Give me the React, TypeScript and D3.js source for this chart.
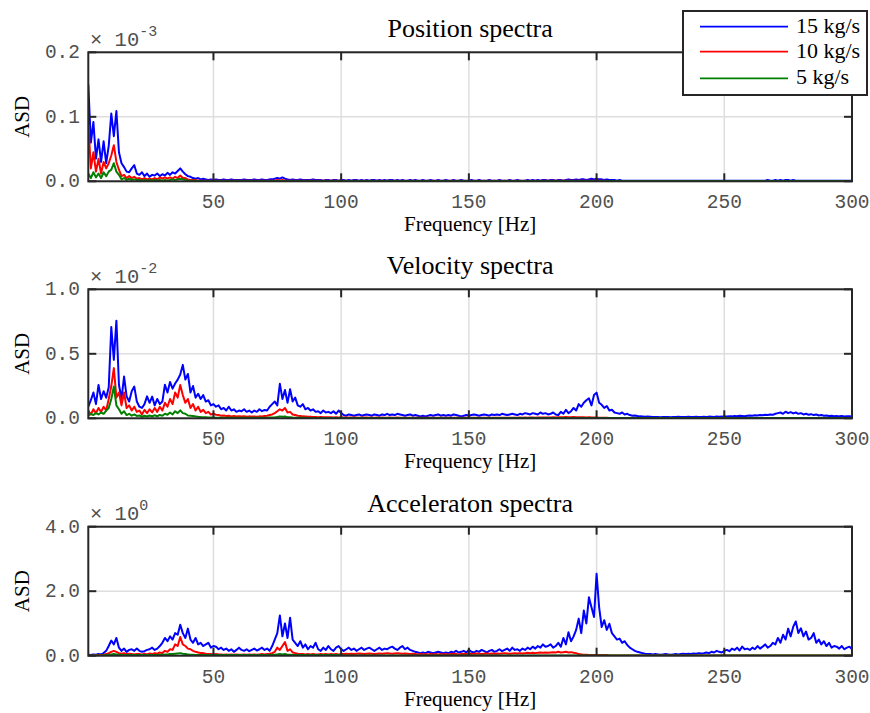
import React from 'react';
import * as d3 from 'd3';

// Spectra are sampled every 1 Hz, starting at 1 Hz (index i -> f = i + 1)
const freqStartHz = 1;
const freqStepHz = 1;
const xDomain = [1, 300];
const xTickValues = [50, 100, 150, 200, 250, 300];
const seriesLabels = ['15 kg/s', '10 kg/s', '5 kg/s'];
const seriesColors = ['#0000ff', '#ff0000', '#008000'];
const panelTitles = ['Position spectra', 'Velocity spectra', 'Acceleraton spectra'];
const yTickLabels = [['0.0', '0.1', '0.2'], ['0.0', '0.5', '1.0'], ['0.0', '2.0', '4.0']];
// raw units: position 1e-6, velocity 1e-5, acceleration 1e-2
const yTickValues = [[0, 100, 200], [0, 500, 1000], [0, 200, 400]];
const yExponents = ['-3', '-2', '0'];

const pos15 = [
  150,60,92,35,65,30,62,28,55,105,70,109,45,28,22,15,14,20,25,12,
  10,14,8,12,7,10,9,12,8,11,9,13,10,14,12,16,20,15,11,8,
  7,5,4,5,3,4,3,2,3,2,3,2,2,3,2,2,3,2,2,2,
  2,3,2,2,2,3,2,2,3,2,2,3,3,4,5,4,6,4,3,2,
  3,2,2,3,2,2,2,2,3,2,2,2,1,2,2,1,2,2,1,2,
  2,1,2,1,2,2,1,2,1,2,1,2,2,1,2,1,2,1,2,2,
  1,2,1,2,1,1,2,1,2,1,1,2,1,1,2,1,1,2,1,1,
  2,1,1,2,1,1,2,1,1,1,2,1,1,2,1,1,1,2,1,1,
  1,2,1,1,1,2,1,1,2,1,1,1,2,1,2,1,2,1,2,2,
  1,2,2,1,2,2,1,2,3,2,2,3,2,3,3,2,3,4,3,4,
  3,3,2,3,2,2,2,1,2,1,1,1,1,1,1,1,1,1,1,1,
  1,1,1,1,1,1,1,1,1,1,1,1,1,1,1,1,1,1,1,1,
  1,1,1,1,1,1,1,1,1,1,1,1,1,1,1,1,1,1,1,1,
  1,1,1,1,1,1,2,1,1,2,1,2,1,2,2,1,2,1,1,1,
  1,1,1,1,1,1,1,1,1,1,1,1,1,1,1,1,1,1,1,1,
];
const pos10 = [
  90,20,45,15,35,12,30,20,28,40,56,30,18,8,10,5,8,5,7,4,
  5,3,5,3,4,3,5,3,6,4,6,4,6,4,7,5,9,5,5,3,
  2,2,2,1,1,1,1,1,1,1,1,1,1,1,1,1,1,1,1,1,
  1,1,1,1,1,1,1,1,1,1,1,1,1,1,2,1,2,1,1,1,
  1,1,1,1,1,1,1,1,1,1,1,1,1,1,1,1,1,1,1,1,
  0.5,1,0.5,1,0.5,1,0.5,1,0.5,1,0.5,1,0.5,1,0.5,1,0.5,1,0.5,1,
  0.5,1,0.5,1,0.5,1,0.5,1,0.5,1,0.5,1,0.5,1,0.5,1,0.5,1,0.5,1,
  0.5,1,0.5,1,0.5,1,0.5,1,0.5,1,0.5,1,0.5,1,0.5,1,0.5,1,0.5,1,
  0.5,1,0.5,1,0.5,1,0.5,1,0.5,1,0.5,1,0.5,1,0.5,1,0.5,1,0.5,1,
  1,1,1,1,1,1,1,1,1,1,1,1,1,1,1,1,1,1,1,1,
  1,1,1,0.5,0.5,0.5,0.5,0.5,0.5,0.5,0.5,0.5,0.5,0.5,0.5,0.5,0.5,0.5,0.5,0.5,
  0.5,0.5,0.5,0.5,0.5,0.5,0.5,0.5,0.5,0.5,0.5,0.5,0.5,0.5,0.5,0.5,0.5,0.5,0.5,0.5,
  0.5,0.5,0.5,0.5,0.5,0.5,0.5,0.5,0.5,0.5,0.5,0.5,0.5,0.5,0.5,0.5,0.5,0.5,0.5,0.5,
  0.5,0.5,0.5,0.5,0.5,0.5,0.5,0.5,0.5,0.5,0.5,0.5,0.5,0.5,0.5,0.5,0.5,0.5,0.5,0.5,
  0.5,0.5,0.5,0.5,0.5,0.5,0.5,0.5,0.5,0.5,0.5,0.5,0.5,0.5,0.5,0.5,0.5,0.5,0.5,0.5,
];
const pos5 = [
  12,5,14,6,12,5,14,8,15,18,28,15,10,3,5,2,4,2,3,2,
  2,1,2,1,2,1,2,1,2,1,2,1,2,3,2,3,4,3,2,1,
  1,1,1,0.5,0.5,0.5,0.5,0.5,0.5,0.5,0.5,0.5,0.5,0.5,0.5,0.5,0.5,0.5,0.5,0.5,
  0.5,0.5,0.5,0.5,0.5,0.5,0.5,0.5,0.5,0.5,0.5,0.5,0.5,0.5,0.5,0.5,0.5,0.5,0.5,0.5,
  0.5,0.5,0.5,0.5,0.5,0.5,0.5,0.5,0.5,0.5,0.5,0.5,0.5,0.5,0.5,0.5,0.5,0.5,0.5,0.5,
  0.3,0.3,0.3,0.3,0.3,0.3,0.3,0.3,0.3,0.3,0.3,0.3,0.3,0.3,0.3,0.3,0.3,0.3,0.3,0.3,
  0.3,0.3,0.3,0.3,0.3,0.3,0.3,0.3,0.3,0.3,0.3,0.3,0.3,0.3,0.3,0.3,0.3,0.3,0.3,0.3,
  0.3,0.3,0.3,0.3,0.3,0.3,0.3,0.3,0.3,0.3,0.3,0.3,0.3,0.3,0.3,0.3,0.3,0.3,0.3,0.3,
  0.3,0.3,0.3,0.3,0.3,0.3,0.3,0.3,0.3,0.3,0.3,0.3,0.3,0.3,0.3,0.3,0.3,0.3,0.3,0.3,
  0.3,0.3,0.3,0.3,0.3,0.3,0.3,0.3,0.3,0.3,0.3,0.3,0.3,0.3,0.3,0.3,0.3,0.3,0.3,0.3,
  0.3,0.3,0.3,0.3,0.3,0.3,0.3,0.3,0.3,0.3,0.3,0.3,0.3,0.3,0.3,0.3,0.3,0.3,0.3,0.3,
  0.3,0.3,0.3,0.3,0.3,0.3,0.3,0.3,0.3,0.3,0.3,0.3,0.3,0.3,0.3,0.3,0.3,0.3,0.3,0.3,
  0.3,0.3,0.3,0.3,0.3,0.3,0.3,0.3,0.3,0.3,0.3,0.3,0.3,0.3,0.3,0.3,0.3,0.3,0.3,0.3,
  0.3,0.3,0.3,0.3,0.3,0.3,0.3,0.3,0.3,0.3,0.3,0.3,0.3,0.3,0.3,0.3,0.3,0.3,0.3,0.3,
  0.3,0.3,0.3,0.3,0.3,0.3,0.3,0.3,0.3,0.3,0.3,0.3,0.3,0.3,0.3,0.3,0.3,0.3,0.3,0.3,
];

const vel15 = [
  90,140,200,110,259,150,210,160,240,707,453,757,260,150,324,170,130,210,246,130,
  90,80,110,170,120,168,100,150,110,130,260,200,282,230,270,300,340,414,300,344,
  200,250,160,190,150,180,130,140,100,110,90,100,70,80,60,90,60,70,50,60,
  55,70,50,60,45,60,50,70,55,65,60,90,110,130,100,267,150,220,120,225,
  130,160,100,90,110,70,80,60,70,50,55,40,60,45,50,40,55,35,60,40,
  25,20,30,25,20,25,30,20,25,30,25,20,30,25,20,30,25,35,25,30,
  25,35,30,25,20,25,30,20,25,20,15,20,15,20,25,20,25,30,20,25,
  20,25,20,30,25,20,15,20,25,20,25,30,25,20,25,30,25,20,30,25,
  30,25,35,30,25,30,35,30,25,35,30,40,35,30,40,35,30,45,35,40,
  30,35,45,30,25,50,35,65,40,55,80,60,110,90,120,140,155,100,180,199,
  120,105,80,95,60,66,45,40,35,45,30,35,25,20,22,18,15,14,12,13,
  12,10,11,10,9,10,11,10,9,10,11,12,10,11,10,12,11,10,12,11,
  10,12,11,13,12,10,14,12,13,15,14,16,15,18,16,20,18,16,20,22,
  20,24,22,25,23,28,25,30,27,35,40,45,35,51,40,48,38,45,35,40,
  30,35,28,32,25,30,22,25,20,22,18,20,16,18,15,17,14,16,15,14,
];
const vel10 = [
  60,30,70,40,80,50,90,60,150,250,389,160,200,100,200,80,100,60,90,50,
  60,30,65,40,70,45,80,50,90,60,120,90,150,110,200,160,259,180,120,150,
  80,110,60,90,50,65,40,50,30,35,28,25,20,22,18,20,15,18,14,16,
  14,16,12,15,13,14,12,15,14,18,20,25,30,40,55,70,60,80,45,50,
  30,25,20,18,15,14,12,12,10,11,9,10,8,9,8,9,7,8,7,8,
  7,6,7,6,7,6,5,6,7,6,5,6,5,6,5,6,5,5,6,5,
  5,6,5,5,4,5,4,5,4,5,4,4,5,4,4,5,4,4,5,4,
  4,5,4,4,5,4,4,5,4,4,5,4,5,4,5,4,5,4,5,5,
  4,5,5,4,5,5,4,5,5,6,5,6,5,6,6,5,6,7,6,7,
  6,7,8,7,8,9,8,10,9,8,10,9,8,9,8,7,8,6,7,6,
  5,5,4,4,3,3,3,3,2,2,2,2,2,2,2,2,2,2,2,2,
  2,2,2,2,2,2,2,2,2,2,2,2,2,2,2,2,2,2,2,2,
  2,2,2,2,2,2,2,2,2,2,2,2,2,2,2,2,2,2,2,2,
  2,2,2,2,2,2,2,2,2,3,3,3,3,3,3,3,3,3,3,3,
  2,2,2,2,2,2,2,2,2,2,2,2,2,2,2,2,2,2,2,2,
];
const vel5 = [
  20,35,25,40,30,45,35,60,80,150,246,100,70,35,55,25,35,20,30,18,
  22,12,20,14,22,14,24,16,26,20,35,28,45,30,55,40,62,40,35,22,
  20,18,15,12,10,9,8,7,6,6,5,5,5,4,4,4,4,4,4,4,
  4,4,4,4,4,4,4,4,4,5,5,6,7,8,10,15,12,14,9,8,
  6,5,5,4,4,4,3,3,3,3,3,3,3,3,3,3,3,3,3,3,
  2,2,2,2,2,2,2,2,2,2,2,2,2,2,2,2,2,2,2,2,
  2,2,2,2,2,2,2,2,2,2,2,2,2,2,2,2,2,2,2,2,
  2,2,2,2,2,2,2,2,2,2,2,2,2,2,2,2,2,2,2,2,
  2,2,2,2,2,2,2,2,2,2,2,2,2,2,2,2,2,2,2,2,
  2,2,2,2,2,2,2,2,2,2,2,2,2,2,2,2,2,2,2,2,
  2,2,2,2,2,2,2,2,2,2,2,2,2,2,2,2,2,2,2,2,
  2,2,2,2,2,2,2,2,2,2,2,2,2,2,2,2,2,2,2,2,
  2,2,2,2,2,2,2,2,2,2,2,2,2,2,2,2,2,2,2,2,
  2,2,2,2,2,2,2,2,2,2,2,2,2,2,2,2,2,2,2,2,
  2,2,2,2,2,2,2,2,2,2,2,2,2,2,2,2,2,2,2,2,
];

const acc15 = [
  3,2,4,3,5,4,8,15,30,47,35,55,25,15,22,12,18,20,15,22,
  15,12,14,18,20,25,18,22,30,40,55,45,60,50,70,65,96,70,55,84,
  50,40,55,35,40,30,35,40,25,30,28,20,25,18,22,15,20,12,18,25,
  18,15,20,14,18,22,16,20,25,18,22,15,30,50,70,125,60,100,55,118,
  50,40,30,45,25,35,20,30,25,40,20,15,25,18,30,20,15,25,30,20,
  15,20,25,18,22,15,20,25,18,22,25,20,15,20,25,18,22,20,25,28,
  22,18,25,30,20,25,18,15,12,10,8,10,8,12,10,8,10,12,10,8,
  10,8,12,10,15,10,12,15,10,18,12,10,15,12,18,14,10,15,18,12,
  15,20,14,18,22,15,25,18,20,15,22,18,25,20,28,22,30,25,35,28,
  30,35,25,30,40,28,55,35,73,45,60,80,115,70,140,100,181,150,120,254,
  150,89,110,80,99,70,60,50,53,40,45,33,25,20,15,12,10,8,6,5,
  5,4,5,4,3,4,5,4,3,4,5,4,5,6,5,6,5,7,6,8,
  7,8,10,8,12,10,15,12,10,15,18,14,22,18,25,16,28,20,22,18,
  25,20,30,22,28,35,25,30,40,35,55,40,65,50,84,60,90,106,70,85,
  60,75,50,55,70,40,50,35,45,30,40,25,30,28,22,30,20,25,28,20,
];
const acc10 = [
  1,1,1,2,2,2,3,5,8,12,15,12,8,6,8,5,6,5,4,5,
  5,3,6,4,7,5,8,6,10,8,15,12,20,18,35,30,58,35,30,22,
  20,15,12,10,8,8,6,5,5,4,5,4,4,3,4,3,4,3,4,3,
  3,4,3,4,3,4,3,4,5,4,5,6,8,12,25,18,30,42,15,20,
  10,8,6,5,5,4,5,4,5,4,4,5,4,5,4,5,4,5,4,5,
  5,6,5,6,5,6,7,6,5,6,7,6,5,6,7,6,7,8,7,6,
  7,8,7,6,7,6,5,6,5,4,5,4,5,4,5,4,5,4,5,4,
  5,4,5,6,5,4,5,6,5,6,5,6,7,6,5,6,7,6,7,6,
  7,6,7,8,7,6,7,8,7,8,7,8,9,8,9,8,9,10,9,10,
  9,10,11,10,12,10,11,12,10,11,9,8,5,4,3,3,2,2,2,2,
  2,2,2,2,1,1,1,1,1,1,1,1,1,1,1,1,1,1,1,1,
  1,1,1,1,1,1,1,1,1,1,1,1,1,1,1,1,1,1,1,1,
  1,1,1,1,1,1,1,1,1,1,1,1,1,1,1,1,1,1,1,1,
  1,1,1,1,1,1,1,1,1,1,1,1,1,1,1,1,1,1,1,1,
  1,1,1,1,1,1,1,1,1,1,1,1,1,1,1,1,1,1,1,1,
];
const acc5 = [
  0,0,1,1,1,1,1,2,3,4,5,4,3,2,2,2,2,2,2,2,
  2,2,2,2,2,2,2,2,3,3,4,4,5,5,6,7,8,6,5,4,
  3,3,2,2,2,2,2,2,2,2,2,2,2,2,2,2,2,2,2,2,
  2,2,2,2,2,2,2,2,2,2,2,2,3,3,4,5,4,5,3,3,
  2,2,2,2,2,2,2,2,2,2,2,2,2,2,2,2,2,2,2,2,
  1,1,1,1,1,1,1,1,1,1,1,1,1,1,1,1,1,1,1,1,
  1,1,1,1,1,1,1,1,1,1,1,1,1,1,1,1,1,1,1,1,
  1,1,1,1,1,1,1,1,1,1,1,1,1,1,1,1,1,1,1,1,
  1,1,1,1,1,1,1,1,1,1,1,1,1,1,1,1,1,1,1,1,
  1,1,1,1,1,1,1,1,1,1,1,1,1,1,1,1,1,1,1,1,
  1,1,1,1,1,1,1,1,1,1,1,1,1,1,1,1,1,1,1,1,
  1,1,1,1,1,1,1,1,1,1,1,1,1,1,1,1,1,1,1,1,
  1,1,1,1,1,1,1,1,1,1,1,1,1,1,1,1,1,1,1,1,
  1,1,1,1,1,1,1,1,1,1,1,1,1,1,1,1,1,1,1,1,
  1,1,1,1,1,1,1,1,1,1,1,1,1,1,1,1,1,1,1,1,
];

const panelSeries = [
  [pos15, pos10, pos5],
  [vel15, vel10, vel5],
  [acc15, acc10, acc5],
];

const SERIF = '"Liberation Serif", "Times New Roman", serif';
const MONO = '"Liberation Mono", "Courier New", monospace';
const AXC = '#262626';

export default function App() {
  const W = 870, H = 713;
  const left = 88.3, right = 852, plotH = 129;
  const tops = [52.3, 289.3, 526.7];
  const cx = (left + right) / 2;
  const x = d3.scaleLinear().domain(xDomain).range([left, right]);
  const tick = 8;

  return (
    <svg width={W} height={H} style={{ position: 'absolute', left: 0, top: 0, background: '#fff' }}>
      <rect x={0} y={0} width={W} height={H} fill="#fff" />
      <defs>
        {tops.map((t, i) => (
          <clipPath id={`clip${i}`} key={i}>
            <rect x={left} y={t - 2} width={right - left} height={plotH + 2} />
          </clipPath>
        ))}
      </defs>
      {tops.map((top, pi) => {
        const bottom = top + plotH;
        const yT = yTickValues[pi];
        const y = d3.scaleLinear().domain([yT[0], yT[yT.length - 1]]).range([bottom, top]);
        const line = d3
          .line<number>()
          .x((_, i) => x(freqStartHz + i * freqStepHz))
          .y((v) => y(v));
        return (
          <g key={pi}>
            {xTickValues.map((t) => (
              <line key={`gx${t}`} x1={x(t)} x2={x(t)} y1={top} y2={bottom} stroke="#dedede" strokeWidth={1.5} />
            ))}
            {yT.map((t) => (
              <line key={`gy${t}`} x1={left} x2={right} y1={y(t)} y2={y(t)} stroke="#dedede" strokeWidth={1.5} />
            ))}
            <g clipPath={`url(#clip${pi})`}>
              {panelSeries[pi].map((s, si) => (
                <path key={si} d={line(s) || ''} fill="none" stroke={seriesColors[si]} strokeWidth={2} strokeLinejoin="round" />
              ))}
            </g>
            <rect x={left} y={top} width={right - left} height={plotH} fill="none" stroke={AXC} strokeWidth={2} />
            {xTickValues.map((t) => (
              <g key={`tx${t}`}>
                <line x1={x(t)} x2={x(t)} y1={bottom} y2={bottom - tick} stroke={AXC} strokeWidth={2} />
                <line x1={x(t)} x2={x(t)} y1={top} y2={top + tick} stroke={AXC} strokeWidth={2} />
                <text x={x(t)} y={bottom + 27} textAnchor="middle" fontFamily={MONO} fontSize={19.5} fill="#505050">
                  {t}
                </text>
              </g>
            ))}
            {yT.map((t, ti) => (
              <g key={`ty${t}`}>
                <line x1={left} x2={left + tick} y1={y(t)} y2={y(t)} stroke={AXC} strokeWidth={2} />
                <line x1={right} x2={right - tick} y1={y(t)} y2={y(t)} stroke={AXC} strokeWidth={2} />
                <text x={80} y={y(t) + 6} textAnchor="end" fontFamily={MONO} fontSize={19.5} fill="#505050">
                  {yTickLabels[pi][ti]}
                </text>
              </g>
            ))}
            <text x={90} y={top - 6.5} fontFamily={MONO} fontSize={20.5} fill="#505050">
              {'× 10'}
              <tspan fontSize={15} dy={-10}>{yExponents[pi]}</tspan>
            </text>
            <text x={cx} y={top - 15} textAnchor="middle" fontFamily={SERIF} fontSize={26} fill="#000">
              {panelTitles[pi]}
            </text>
            <text x={cx} y={bottom + 50} textAnchor="middle" fontFamily={SERIF} fontSize={21} fill="#000">
              Frequency [Hz]
            </text>
            <text
              transform={`translate(${29},${(top + bottom) / 2}) rotate(-90)`}
              textAnchor="middle"
              fontFamily={SERIF}
              fontSize={21}
              fill="#000"
            >
              ASD
            </text>
          </g>
        );
      })}
      <g>
        <rect x={683} y={11} width={184} height={84} fill="#fff" stroke={AXC} strokeWidth={2} />
        {seriesLabels.map((lab, i) => {
          const ly = [26.7, 51.7, 78.3][i];
          return (
            <g key={lab}>
              <line x1={700} x2={788} y1={ly} y2={ly} stroke={seriesColors[i]} strokeWidth={1.8} />
              <text x={796} y={ly + 6} fontFamily={SERIF} fontSize={22} fill="#000">
                {lab}
              </text>
            </g>
          );
        })}
      </g>
    </svg>
  );
}
